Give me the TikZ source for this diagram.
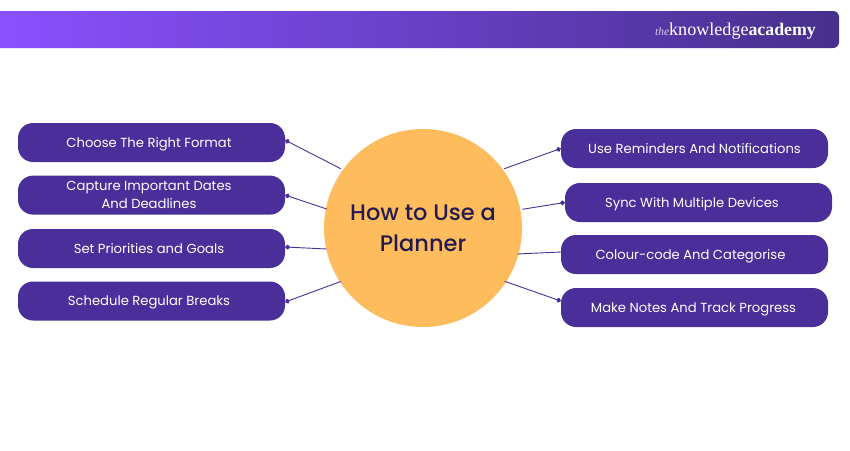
\documentclass[tikz,border=0pt]{standalone}
\usepackage{fontspec}
\setmainfont{Poppins}
\newfontfamily\hubfont{Poppins Medium}
\newfontfamily\logofont{Liberation Serif}
\usetikzlibrary{arrows.meta}
\definecolor{pillc}{HTML}{4A2F9A}
\definecolor{hubc}{HTML}{FFBC5C}
\definecolor{hubtext}{HTML}{231B50}
\definecolor{bandleft}{RGB}{138,80,255}
\definecolor{bandright}{RGB}{70,48,140}
\newcommand\lsh[1]{\hspace*{#1pt}}
\tikzset{
  pill/.style={fill=pillc,draw=none,rounded corners=15pt,minimum width=267pt,minimum height=39pt,
    inner sep=0pt,text=white,align=center,font=\fontsize{13.15}{17.6}\selectfont},
  pillone/.style={pill,text height=12.5pt,text depth=3.4pt},
  hubnode/.style={circle,fill=hubc,draw=none,minimum size=198pt,inner sep=0pt,text=hubtext,align=center,
    font=\hubfont\fontsize{22.5}{31}\selectfont},
  plainlink/.style={draw=pillc,line width=0.9pt},
  link/.style={plainlink,-{Circle[length=4.8pt,width=4.8pt]}}
}
\begin{document}
\begin{tikzpicture}[x=1pt,y=-1pt]
\useasboundingbox (0,0) rectangle (850,450);
\fill[white] (0,0) rectangle (850,450);
\shade[left color=bandleft,right color=bandright]
  (0,11) [rounded corners=6pt] -- (839,11) -- (839,48) [rounded corners=0pt] -- (0,48) -- cycle;
\node[anchor=base east,inner sep=0pt,text=white,font=\logofont] (logo) at (816,35)
  {{\fontsize{11.5}{12}\selectfont\itshape\color{white!75!pillc}the}{\fontsize{18.1}{18}\selectfont knowledge}{\fontsize{17.8}{18}\selectfont\bfseries academy}};
\node[hubnode] (hub) at (423,228) {How to Use a\\Planner};
\node[pillone] (l1) at (151.5,142.5) {Choose The Right Format\lsh{5}};
\node[pill,yshift=0.4pt] (l2) at (151.5,195.5) {Capture Important Dates\lsh{5}\\And Deadlines\lsh{5}};
\node[pillone] (l3) at (151.5,248.5) {Set Priorities and Goals\lsh{5}};
\node[pillone] (l4) at (151.5,301) {Schedule Regular Breaks\lsh{5}};
\node[pillone] (r1) at (694.5,148.5) {Use Reminders And Notifications};
\node[pillone] (r2) at (698.5,202.5) {Sync With Multiple Devices\lsh{13}};
\node[pillone] (r3) at (694.5,254.5) {Colour-code And Categorise\lsh{8}};
\node[pillone] (r4) at (694.5,307.5) {Make Notes And Track Progress\lsh{2}};
\coordinate (al1) at (340.8,168.7);
\coordinate (al2) at (326.7,209);
\coordinate (al3) at (326.7,249);
\coordinate (al4) at (340.7,281.5);
\coordinate (ar1) at (504.3,168.7);
\coordinate (ar2) at (522.3,209.3);
\coordinate (ar3) at (517.3,254);
\coordinate (ar4) at (504.7,281.3);
\draw[link] (al1) -- ([yshift=2.3pt]l1.east);
\draw[link] (al2) -- (l2.east);
\draw[link] (al3) -- ([yshift=1.5pt]l3.east);
\draw[link] (al4) -- ([yshift=-1pt]l4.east);
\draw[link] (ar1) -- (r1.west);
\draw[link] (ar2) -- (r2.west);
\draw[plainlink] (ar3) -- ([yshift=2.5pt]r3.west);
\draw[link] (ar4) -- ([yshift=6.5pt]r4.west);
\end{tikzpicture}
\end{document}
